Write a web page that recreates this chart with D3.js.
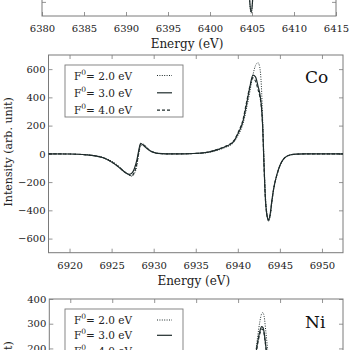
<!DOCTYPE html>
<html><head><meta charset="utf-8">
<script src="https://cdn.jsdelivr.net/npm/d3@7"></script>
<style>
html,body{margin:0;padding:0;background:#fff;}
svg{display:block;}
</style></head>
<body>
<svg id="c" width="350" height="350"></svg>
<script>
// ---------- data ----------
const legendLabels = ["2.0 eV", "3.0 eV", "4.0 eV"];

// Fe panel (only the bottom of it is visible)
const feEnergy = [6380, 6400, 6403, 6404, 6404.5, 6404.75, 6404.9, 6405.05, 6405.3, 6406, 6415];
const feF2 = [0, 0, 60, 260, -260, -620, -680, -615, -250, 50, 0];
const feF3 = [0, 0, 60, 250, -250, -610, -672, -605, -240, 50, 0];
const feXTicks = [6380, 6385, 6390, 6395, 6400, 6405, 6410, 6415];
const feYTicks = [-600, -400, -200, 0, 200, 400, 600];

// Co panel
const coEnergy = [6917.5, 6920, 6921, 6922, 6923, 6924, 6924.8, 6925.6, 6926.2, 6926.6, 6927.1, 6927.4, 6927.7, 6928.0, 6928.2, 6928.45, 6928.8, 6929.2, 6929.6, 6930, 6930.5, 6931.5, 6933, 6934.5, 6935.5, 6936.5, 6937.5, 6938.5, 6939.5, 6940, 6940.6, 6941, 6941.4, 6941.8, 6942.1, 6942.4, 6942.6, 6942.8, 6942.95, 6943.1, 6943.25, 6943.45, 6943.65, 6943.85, 6944.05, 6944.25, 6944.65, 6945.05, 6945.5, 6946.2, 6947, 6948, 6952.5];
const coF2 = [0, -1, -3, -6, -12, -25, -45, -75, -105, -128, -150, -158, -140, -85, -10, 55, 68, 45, 24, 12, 4, 0, 0, 2, 4, 10, 24, 45, 80, 128, 210, 310, 430, 560, 625, 645, 615, 480, 250, -20, -260, -420, -478, -440, -345, -255, -150, -78, -32, -8, -2, 0, 0];
const coF3 = [0, -1, -3, -7, -14, -28, -50, -82, -112, -132, -145, -138, -105, -45, 15, 75, 58, 38, 20, 10, 3, 0, 0, 2, 5, 12, 28, 50, 87, 140, 228, 340, 464, 557, 545, 480, 430, 340, 200, -60, -290, -430, -466, -425, -330, -250, -145, -75, -32, -8, -2, 0, 0];
const coF4 = [0, -1, -3, -7, -14, -28, -50, -82, -110, -130, -150, -156, -130, -70, 0, 68, 62, 40, 22, 11, 3, 0, 0, 2, 5, 13, 30, 53, 92, 148, 240, 355, 470, 538, 515, 455, 410, 330, 195, -60, -290, -430, -470, -430, -335, -252, -148, -77, -32, -8, -2, 0, 0];
const coXTicks = [6920, 6925, 6930, 6935, 6940, 6945, 6950];
const coYTicks = [-600, -400, -200, 0, 200, 400, 600];

// Ni panel (only the top of it is visible)
const niEnergy = [7457.5, 7470, 7475, 7478, 7480, 7481, 7481.6, 7482.0, 7482.3, 7482.6, 7482.8, 7482.95, 7483.1, 7483.3, 7483.6, 7484.0, 7484.5, 7485, 7487, 7492.5];
const niF2 = [0, 0, 2, 8, 20, 40, 80, 160, 240, 310, 340, 345, 330, 270, 170, 70, 10, -20, -5, 0];
const niF3 = [0, 0, 2, 8, 20, 38, 75, 150, 220, 270, 288, 285, 265, 210, 130, 55, 8, -15, -4, 0];
const niF4 = [0, 0, 2, 8, 20, 38, 72, 145, 212, 260, 278, 276, 258, 205, 128, 54, 8, -15, -4, 0];
const niXTicks = [7460, 7465, 7470, 7475, 7480, 7485, 7490];
const niYTicks = [-300, -200, -100, 0, 100, 200, 300, 400];

// ---------- drawing ----------
const svg = d3.select("#c");
const FONT = "'DejaVu Serif', serif";
const INK = "#1e2b2b";
const FRAME = "#7a7a7a";
const styles = [
  {dash: "1,1.4", w: 1.0},   // 2.0 eV dotted
  {dash: null, w: 1.2},      // 3.0 eV solid
  {dash: "3,2", w: 1.1}      // 4.0 eV dashed
];

let clipId = 0;
function panel(cfg) {
  const x = d3.scaleLinear().domain(cfg.xDomain).range([cfg.left, cfg.right]);
  const y = d3.scaleLinear().domain(cfg.yDomain).range([cfg.bottom, cfg.top]);
  const g = svg.append("g");
  const id = "clip" + (clipId++);
  g.append("clipPath").attr("id", id).append("rect")
    .attr("x", cfg.left).attr("y", cfg.top)
    .attr("width", cfg.right - cfg.left).attr("height", cfg.bottom - cfg.top);

  function styleAxis(a) {
    a.select(".domain").remove();
    a.selectAll(".tick line").attr("stroke", FRAME).attr("stroke-width", 0.8);
    a.selectAll("text").attr("font-family", FONT).attr("font-size", 10).attr("fill", "#222");
  }
  // bottom
  const ab = g.append("g").attr("transform", `translate(0,${cfg.bottom})`)
    .call(d3.axisBottom(x).tickValues(cfg.xTicks).tickSize(-4).tickPadding(cfg.showX ? 9 : 0)
      .tickFormat(cfg.showX ? d3.format("d") : () => ""));
  styleAxis(ab);
  // top
  const at = g.append("g").attr("transform", `translate(0,${cfg.top})`)
    .call(d3.axisTop(x).tickValues(cfg.xTicks).tickSize(-4).tickFormat(() => ""));
  styleAxis(at);
  // left
  const al = g.append("g").attr("transform", `translate(${cfg.left},0)`)
    .call(d3.axisLeft(y).tickValues(cfg.yTicks).tickSize(-4).tickPadding(3)
      .tickFormat(cfg.showY === false ? () => "" : d3.format("d")));
  styleAxis(al);
  // right
  const ar = g.append("g").attr("transform", `translate(${cfg.right},0)`)
    .call(d3.axisRight(y).tickValues(cfg.yTicks).tickSize(-4).tickFormat(() => ""));
  styleAxis(ar);

  // frame
  g.append("rect").attr("x", cfg.left).attr("y", cfg.top)
    .attr("width", cfg.right - cfg.left).attr("height", cfg.bottom - cfg.top)
    .attr("fill", "none").attr("stroke", FRAME).attr("stroke-width", 1);

  // curves
  const line = d3.line().x(d => x(d[0])).y(d => y(d[1])).curve(d3.curveMonotoneX);
  const lg = g.append("g").attr("clip-path", `url(#${id})`);
  cfg.series.forEach((s, i) => {
    if (!s) return;
    const pts = cfg.energy.map((e, k) => [e, s[k]]);
    lg.append("path").attr("d", line(pts)).attr("fill", "none")
      .attr("stroke", INK).attr("stroke-width", styles[i].w)
      .attr("stroke-dasharray", styles[i].dash);
  });

  // x title
  if (cfg.showX) {
    g.append("text").attr("x", (cfg.left + cfg.right) / 2 - 2).attr("y", cfg.bottom + 28)
      .attr("text-anchor", "middle").attr("dominant-baseline", "central")
      .attr("font-family", FONT).attr("font-size", 12).attr("fill", "#222").text("Energy (eV)");
  }
  // y title
  if (cfg.yTitle) {
    g.append("text").attr("transform", `translate(8,${(cfg.top + cfg.bottom) / 2 - 2}) rotate(-90)`)
      .attr("text-anchor", "middle").attr("dominant-baseline", "central")
      .attr("font-family", FONT).attr("font-size", 11).attr("fill", "#222")
      .text("Intensity (arb. unit)");
  }
  // element label
  if (cfg.label) {
    g.append("text").attr("x", cfg.right - 38).attr("y", cfg.top + cfg.labelDy)
      .attr("dominant-baseline", "central")
      .attr("font-family", FONT).attr("font-size", 17).attr("fill", "#111").text(cfg.label);
  }
  // legend
  if (cfg.legend) {
    const L = cfg.legend;
    const lgd = g.append("g");
    lgd.append("rect").attr("x", L.x).attr("y", L.y).attr("width", L.w).attr("height", L.h)
      .attr("fill", "#fff").attr("stroke", FRAME).attr("stroke-width", 0.9);
    legendLabels.forEach((lab, i) => {
      const cy = L.y + L.first + i * L.step;
      const t = lgd.append("text").attr("x", L.x + 9).attr("y", cy)
        .attr("dominant-baseline", "central")
        .attr("font-family", FONT).attr("font-size", 10.5).attr("fill", "#222");
      t.append("tspan").text("F");
      t.append("tspan").attr("dy", -4).attr("font-size", 7.5).text("0");
      t.append("tspan").attr("dy", 4).text("= " + lab);
      lgd.append("line").attr("x1", L.x + 92).attr("x2", L.x + 107)
        .attr("y1", cy).attr("y2", cy)
        .attr("stroke", INK).attr("stroke-width", styles[i].w)
        .attr("stroke-dasharray", styles[i].dash);
    });
  }
}

// Fe panel (top, cut off)
panel({
  xDomain: [6380, 6415], yDomain: [-700, 700],
  left: 42, right: 336, top: -181.7, bottom: 16,
  xTicks: feXTicks, yTicks: feYTicks, showX: true, showY: false,
  energy: feEnergy, series: [feF2, feF3, null]
});

// Co panel
panel({
  xDomain: [6917.5, 6952.5], yDomain: [-700, 700],
  left: 48.5, right: 343, top: 55, bottom: 252.7,
  xTicks: coXTicks, yTicks: coYTicks, showX: true,
  energy: coEnergy, series: [coF2, coF3, coF4],
  yTitle: true, label: "Co", labelDy: 22,
  legend: {x: 65, y: 65, w: 118, h: 52, first: 10.5, step: 17.3}
});

// Ni panel (bottom, cut off)
panel({
  xDomain: [7457.5, 7492.5], yDomain: [-400, 400],
  left: 49.3, right: 343, top: 299, bottom: 496.7,
  xTicks: niXTicks, yTicks: niYTicks, showX: false,
  energy: niEnergy, series: [niF2, niF3, niF4],
  yTitle: true, label: "Ni", labelDy: 23,
  legend: {x: 65, y: 309, w: 118, h: 52, first: 11, step: 15.3}
});
</script>
</body></html>
